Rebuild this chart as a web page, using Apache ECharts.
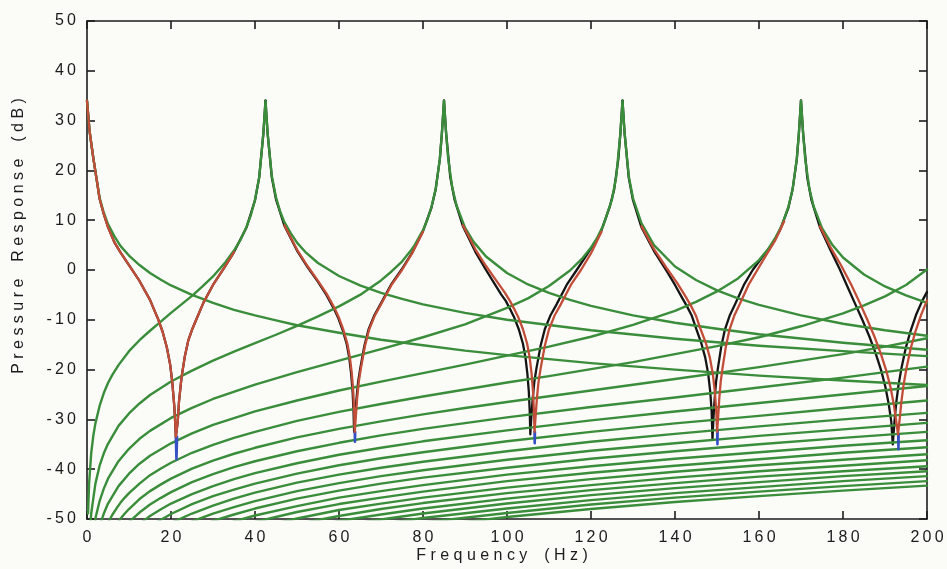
<!DOCTYPE html>
<html>
<head>
<meta charset="utf-8">
<script src="https://cdn.jsdelivr.net/npm/echarts/dist/echarts.min.js"></script>
<style>
  html, body { margin: 0; padding: 0; background: #fbfbf8; }
  #chart { width: 947px; height: 569px; }
</style>
</head>
<body>
<div id="chart"></div>
<script>
// Axis ranges and tick spacing
const xRange = [0, 200];
const yRange = [-50, 50];
const xStep = 20;
const yStep = 10;

// Modal contributions: [frequency Hz, level dB]
const mode0 = [[0,34],[0.3,31],[0.6,28],[1,25.5],[1.5,22.5],[2,19.8],[3,14.5],[4,11.5],[5,9.2],[6.5,6.8],[8,4.8],[10,2.9],[12.5,1.0],[15,-0.6],[17.5,-1.9],[20,-3.1],[25,-5.0],[30,-6.6],[35,-8.0],[40,-9.1],[45,-10.1],[50,-11.1],[60,-12.6],[70,-14.0],[80,-15.1],[90,-16.2],[100,-17.1],[120,-18.7],[140,-20.0],[160,-21.2],[180,-22.2],[200,-23.1]];
const mode1 = [[0.25,-48.9],[0.5,-42.9],[1,-36.8],[1.5,-33.3],[2,-30.8],[3,-27.3],[4,-24.7],[5,-22.7],[6,-21.1],[7.5,-19.1],[10,-16.3],[12.5,-14.1],[15,-12.2],[17.5,-10.4],[20,-8.6],[22.5,-6.9],[25,-5.2],[27.5,-3.3],[30,-1.3],[33,1.6],[35,3.9],[36.5,6.0],[38,8.7],[39,11.0],[40,14.1],[41,18.6],[42,27.5],[42.5,34],[43,27.5],[44,18.9],[45,14.6],[46,11.7],[47,9.6],[48.5,7.4],[50,5.5],[52,3.6],[55,1.4],[60,-1.2],[65,-3.1],[70,-4.6],[75,-5.8],[80,-6.9],[90,-8.6],[100,-10.0],[120,-12.1],[140,-13.8],[160,-15.2],[180,-16.3],[200,-17.3]];
const mode2 = [[0.5,-54.9],[1,-48.9],[2,-42.9],[3,-39.3],[4,-36.8],[5,-34.9],[7.5,-31.3],[10,-28.8],[12.5,-26.8],[15,-25.1],[20,-22.4],[25,-20.2],[30,-18.2],[35,-16.4],[40,-14.7],[45,-13.0],[50,-11.2],[55,-9.3],[60,-7.3],[65,-5.0],[70,-2.1],[72.5,-0.3],[75,1.7],[77,3.8],[78,5.0],[80,8.0],[81,10.0],[82,12.6],[83,16.2],[84,22.2],[84.5,27.5],[85,34],[85.5,27.5],[86,22.3],[87,16.4],[88,12.9],[90,8.5],[92,5.7],[95,2.7],[100,-0.6],[105,-2.9],[110,-4.6],[115,-6.0],[120,-7.2],[130,-9.1],[140,-10.6],[150,-11.8],[160,-12.9],[180,-14.6],[200,-16.0]];
const mode3 = [[1,-55.9],[2,-49.9],[3,-46.4],[4,-43.9],[5,-41.9],[7.5,-38.4],[10,-35.9],[12.5,-33.9],[15,-32.3],[20,-29.7],[25,-27.7],[30,-25.9],[40,-23.0],[50,-20.5],[60,-18.2],[70,-15.9],[80,-13.5],[90,-10.9],[100,-7.6],[105,-5.7],[110,-3.2],[115,-0.1],[118,2.4],[120,4.5],[121.5,6.5],[123,9.1],[125,14.2],[126,18.7],[127,27.5],[127.5,34],[128,27.5],[129,18.8],[130,14.4],[132,9.4],[135,5.0],[140,0.7],[145,-2.0],[150,-4.1],[155,-5.7],[160,-7.0],[170,-9.1],[180,-10.8],[190,-12.1],[200,-13.2]];
const mode4 = [[2,-54.9],[3,-51.4],[4,-48.9],[5,-46.9],[7.5,-43.4],[10,-40.9],[12.5,-38.9],[15,-37.3],[20,-34.8],[25,-32.8],[30,-31.1],[40,-28.4],[50,-26.2],[60,-24.2],[70,-22.4],[80,-20.7],[90,-19.0],[100,-17.2],[110,-15.4],[120,-13.4],[130,-11.0],[140,-8.2],[145,-6.4],[150,-4.3],[155,-1.7],[160,2.0],[162,4.0],[164,6.6],[165.5,9.1],[167,12.7],[168,16.2],[169,22.3],[169.5,27.5],[170,34],[170.5,27.5],[171,22.3],[172,16.3],[173,12.8],[175,8.4],[177.5,5.0],[180,2.5],[185,-0.9],[190,-3.3],[195,-5.1],[200,-6.6]];
const mode5 = [[4,-52.8],[5,-50.8],[6,-49.2],[7,-47.9],[8,-46.7],[9,-45.7],[10,-44.8],[12.5,-42.9],[15,-41.2],[17.5,-39.9],[20,-38.7],[25,-36.7],[30,-35.1],[35,-33.7],[40,-32.5],[50,-30.3],[60,-28.5],[70,-26.9],[80,-25.4],[90,-24.0],[100,-22.6],[110,-21.3],[120,-19.9],[130,-18.5],[140,-16.9],[150,-15.3],[160,-13.5],[170,-11.3],[180,-8.7],[185,-7.1],[190,-5.3],[195,-3.0],[200,0.1]];
const mode6 = [[7,-51.1],[8,-49.9],[9,-48.9],[10,-48.0],[12.5,-46.0],[15,-44.4],[17.5,-43.1],[20,-41.9],[25,-39.9],[30,-38.3],[35,-36.9],[40,-35.7],[50,-33.6],[60,-31.9],[70,-30.4],[80,-29.0],[90,-27.7],[100,-26.5],[120,-24.2],[140,-21.9],[160,-19.5],[180,-16.9],[190,-15.4],[200,-13.7]];
const mode7 = [[8,-52.6],[9,-51.6],[10,-50.6],[12.5,-48.7],[15,-47.1],[17.5,-45.8],[20,-44.6],[25,-42.6],[30,-41.0],[35,-39.6],[40,-38.4],[50,-36.4],[60,-34.7],[70,-33.2],[80,-31.9],[100,-29.6],[120,-27.5],[140,-25.6],[160,-23.6],[180,-21.6],[200,-19.4]];
const mode8 = [[10,-53.0],[12.5,-51.0],[15,-49.4],[17.5,-48.1],[20,-46.9],[25,-45.0],[30,-43.4],[35,-42.0],[40,-40.8],[50,-38.8],[60,-37.1],[70,-35.7],[80,-34.4],[100,-32.2],[120,-30.2],[140,-28.4],[160,-26.7],[180,-25.0],[200,-23.3]];
const mode9 = [[12.5,-53.1],[15,-51.5],[17.5,-50.2],[20,-49.0],[25,-47.0],[30,-45.4],[35,-44.1],[40,-42.9],[50,-40.9],[60,-39.2],[70,-37.8],[80,-36.6],[100,-34.4],[120,-32.5],[140,-30.8],[160,-29.3],[180,-27.7],[200,-26.2]];
const mode10 = [[15,-53.3],[17.5,-52.0],[20,-50.8],[25,-48.9],[30,-47.3],[35,-45.9],[40,-44.7],[50,-42.7],[60,-41.1],[70,-39.7],[80,-38.5],[100,-36.4],[120,-34.5],[140,-32.9],[160,-31.4],[180,-30.0],[200,-28.7]];
const mode11 = [[20,-52.5],[25,-50.5],[30,-48.9],[35,-47.6],[40,-46.4],[50,-44.4],[60,-42.8],[70,-41.4],[80,-40.2],[100,-38.1],[120,-36.3],[140,-34.8],[160,-33.3],[180,-32.0],[200,-30.7]];
const mode12 = [[20,-54.0],[25,-52.0],[30,-50.4],[35,-49.1],[40,-47.9],[50,-45.9],[60,-44.3],[70,-42.9],[80,-41.7],[100,-39.7],[120,-37.9],[140,-36.4],[160,-35.0],[180,-33.7],[200,-32.5]];
const mode13 = [[25,-53.4],[30,-51.8],[35,-50.5],[40,-49.3],[50,-47.4],[60,-45.7],[70,-44.4],[80,-43.2],[100,-41.1],[120,-39.4],[140,-37.9],[160,-36.6],[180,-35.3],[200,-34.2]];
const mode14 = [[30,-53.1],[35,-51.8],[40,-50.6],[50,-48.6],[60,-47.0],[70,-45.7],[80,-44.5],[100,-42.4],[120,-40.7],[140,-39.3],[160,-38.0],[180,-36.7],[200,-35.6]];
const mode15 = [[35,-53.0],[40,-51.8],[50,-49.9],[60,-48.2],[70,-46.9],[80,-45.7],[100,-43.7],[120,-42.0],[140,-40.5],[160,-39.2],[180,-38.1],[200,-37.0]];
const mode16 = [[40,-53.0],[50,-51.0],[60,-49.4],[70,-48.0],[80,-46.8],[100,-44.8],[120,-43.2],[140,-41.7],[160,-40.4],[180,-39.3],[200,-38.2]];
const mode17 = [[45,-53.0],[50,-52.0],[60,-50.4],[70,-49.1],[80,-47.9],[100,-45.9],[120,-44.2],[140,-42.8],[160,-41.5],[180,-40.4],[200,-39.4]];
const mode18 = [[50,-53.1],[60,-51.4],[70,-50.1],[80,-48.9],[100,-46.9],[120,-45.2],[140,-43.8],[160,-42.6],[180,-41.4],[200,-40.4]];
const mode19 = [[55,-53.1],[60,-52.4],[70,-51.0],[80,-49.8],[100,-47.9],[120,-46.2],[140,-44.8],[160,-43.6],[180,-42.4],[200,-41.4]];
const mode20 = [[60,-53.3],[70,-51.9],[80,-50.7],[100,-48.8],[120,-47.1],[140,-45.7],[160,-44.5],[180,-43.4],[200,-42.4]];
const mode21 = [[70,-52.8],[80,-51.6],[100,-49.6],[120,-48.0],[140,-46.6],[160,-45.4],[180,-44.3],[200,-43.3]];

// Summed response (red), drawn where it departs from the single modes
const red1 = [[0,34],[0.3,31],[0.6,28],[1,25.5],[1.5,22.5],[2,19.8],[3,14.3],[4,11.2],[5,8.6],[6.5,5.6],[8,3.5],[10,1.0],[12.5,-2.2],[15,-6.0],[16,-8.0],[17,-10.0],[18,-12.4],[19,-15.5],[19.8,-19.0],[20.3,-22.5],[20.8,-27.5],[21.05,-31.5],[21.15,-33.5],[21.45,-33.5],[21.6,-30.5],[21.9,-26.5],[22.5,-21.6],[23.3,-17.3],[24.1,-14.2],[25,-12.0],[25.9,-10.2],[27.7,-6.6],[30,-3.0],[33,0.9],[35,3.6]];
const red2 = [[47,9.0],[50,4.1],[52.5,0.8],[55,-2.2],[57,-4.7],[58,-6.2],[59,-7.8],[60,-9.6],[61,-11.9],[62,-14.8],[62.6,-17.6],[63.05,-20.8],[63.4,-24.5],[63.62,-28.5],[63.75,-32.5],[63.85,-32.5],[64.0,-29.5],[64.3,-26],[64.7,-22.5],[65.2,-19.8],[66.2,-15.2],[67.2,-11.9],[68.5,-9.2],[70,-6.9],[72.5,-3.0],[75,0.0],[77.5,3.5],[80,7.7]];
const red3 = [[89.5,9.0],[92.5,4.1],[95,0.8],[97.5,-2.2],[99.6,-4.7],[100.7,-6.2],[101.7,-7.8],[102.75,-9.6],[103.8,-11.9],[104.8,-14.8],[105.4,-17.6],[105.85,-20.8],[106.2,-24.5],[106.42,-28.5],[106.55,-32.5],[106.65,-32.5],[106.8,-29.5],[107.1,-26],[107.5,-22.5],[108.0,-19.8],[109.0,-15.2],[110.0,-11.9],[111.3,-9.2],[112.8,-6.9],[115.2,-3.0],[117.6,0.0],[120.1,3.5],[122.5,7.7]];
const red4 = [[132,8.8],[135,4.2],[138,0.4],[140.5,-2.6],[142.5,-5.3],[143.8,-7.2],[145,-9.2],[146.1,-11.9],[147.4,-14.8],[148.3,-17.6],[149.0,-20.8],[149.5,-24.5],[149.83,-28.5],[150.03,-32.5],[150.15,-32.5],[150.27,-29.5],[150.53,-26],[150.87,-22.5],[151.3,-19.8],[152.15,-15.2],[153.0,-11.9],[154.1,-9.2],[155.4,-6.9],[157.5,-3.0],[159.6,0.0],[161.7,3.0],[163.9,6.0],[166,9.8]];
const red5 = [[174.5,8.8],[177,4.6],[179.5,1.0],[182,-3.0],[184,-6.6],[185.8,-10.0],[187.5,-13.4],[189,-16.8],[190.3,-20.2],[191.3,-23.5],[192.1,-27],[192.7,-30.5],[193.1,-33],[193.3,-33],[193.55,-29.5],[193.9,-26.5],[194.4,-23.2],[195.1,-19.8],[196.1,-15.8],[197.3,-12.2],[198.6,-9.0],[200,-6.1]];

// Second summed response (black)
const black1 = [[0,34],[0.3,31],[0.6,28],[1,25.5],[1.5,22.5],[2,19.8],[3,14.3],[4,11.2],[5,8.6],[6.5,5.6],[8,3.5],[10,1.0],[12.5,-2.2],[15,-6.0],[16,-8.0],[17,-10.0],[18,-12.4],[19,-15.5],[19.8,-19.0],[20.3,-22.5],[20.8,-27.5],[21.05,-31.5],[21.15,-33.5],[21.45,-33.5],[21.6,-30.5],[21.9,-26.5],[22.5,-21.6],[23.3,-17.3],[24.1,-14.2],[25,-12.0],[25.9,-10.2],[27.7,-6.6],[30,-3.0],[33,0.9],[35,3.6],[38,8.6],[40,14.0],[41,18.6],[42,27.5],[42.5,34]];
const black2 = [[42.5,34],[43,27.5],[44,18.6],[45,14.2],[47,8.9],[50,3.9],[52.5,0.6],[55,-2.4],[57,-5.0],[57.9,-6.4],[58.85,-7.9],[59.85,-9.7],[60.85,-12.0],[61.85,-14.9],[62.45,-17.7],[62.9,-20.9],[63.25,-24.6],[63.47,-28.6],[63.6,-32.5],[63.7,-32.5],[63.85,-29.5],[64.15,-26],[64.55,-22.5],[65.05,-19.8],[66.05,-15.2],[67.05,-11.9],[68.35,-9.2],[69.85,-6.9],[72.35,-3.0],[74.9,0.1],[77.5,3.6],[80,7.8],[82,12.5],[83,16.1],[84,22.2],[84.5,27.5],[85,34]];
const black3 = [[85,34],[85.5,27.5],[86.5,18.6],[87.5,14.2],[89.5,8.8],[92.5,3.6],[95,0.0],[97.2,-3.0],[98.6,-4.9],[99.7,-6.2],[100.7,-7.8],[101.75,-9.6],[102.8,-11.9],[103.8,-14.8],[104.4,-17.6],[104.85,-20.8],[105.2,-24.5],[105.42,-28.5],[105.55,-33],[105.65,-33],[105.8,-29.5],[106.1,-26],[106.5,-22.5],[107.0,-19.8],[108.0,-15.2],[109.0,-11.9],[110.3,-9.2],[111.8,-6.9],[114.2,-3.0],[116.6,0.0],[119.1,3.2],[121.5,6.3],[122.5,8.0],[124.5,12.8],[125.5,16.1],[126.5,22.2],[127,27.5],[127.5,34]];
const black4 = [[127.5,34],[128,27.5],[129,18.5],[130,14.0],[132,8.6],[135,3.8],[138,-0.2],[140,-3.0],[141.7,-5.6],[142.8,-7.2],[144,-9.2],[145.1,-11.9],[146.3,-14.8],[147.2,-17.6],[147.9,-20.8],[148.4,-24.5],[148.73,-28.5],[148.92,-34],[149.08,-34],[149.17,-29.5],[149.43,-26],[149.77,-22.5],[150.2,-19.8],[151.05,-15.2],[151.9,-11.9],[153.0,-9.2],[154.3,-6.9],[156.4,-3.0],[158.5,0.0],[160.6,2.4],[163,5.0],[165,8.0],[167,12.5],[168,16.2],[169,22.2],[169.5,27.5],[170,34]];
const black5 = [[170,34],[170.5,27.5],[171.5,18.5],[172.5,14.0],[174.5,8.6],[177,4.0],[179.2,0.2],[181.2,-3.6],[183,-7.0],[184.7,-10.2],[186.3,-13.4],[187.8,-16.8],[189.1,-20.2],[190.1,-23.5],[190.9,-27],[191.5,-30.5],[191.85,-35],[192.1,-35],[192.35,-29.5],[192.7,-26.5],[193.2,-23.2],[193.9,-19.8],[194.9,-15.8],[196.1,-12.2],[197.4,-9.0],[198.8,-6.3],[200,-4.4]];

// Deepest points of the antiresonance notches (blue)
const blue1 = [[21.15,-33.5],[21.3,-38],[21.45,-33.5]];
const blue2 = [[63.75,-32.5],[63.8,-34.5],[63.85,-32.5]];
const blue3 = [[106.55,-32.5],[106.6,-34.8],[106.65,-32.5]];
const blue4 = [[150.05,-32.5],[150.1,-35],[150.15,-32.5]];
const blue5 = [[193.15,-33],[193.2,-36],[193.25,-33]];

// Text
const xTitle = 'Frequency (Hz)';
const yTitle = 'Pressure Response (dB)';

const GREEN = '#3a8d3a';
const RED = '#c24d38';
const BLACK = '#141414';
const BLUE = '#3550c4';
const INK = '#1c1c1c';
const FONT = '"Liberation Sans", Arial, sans-serif';

// Letter-spaced text, as in the printed figure
const spaced = s => String(s).split('').join('\u2009');
const spacedTitle = s => s.split('').map(c => c === ' ' ? '\u2002' : c).join(' ');

const greens = [mode0, mode1, mode2, mode3, mode4, mode5, mode6, mode7, mode8, mode9, mode10,
  mode11, mode12, mode13, mode14, mode15, mode16, mode17, mode18, mode19, mode20, mode21];
const reds = [red1, red2, red3, red4, red5];
const blacks = [black1, black2, black3, black4, black5];
const blues = [blue1, blue2, blue3, blue4, blue5];

const lineBase = {
  type: 'line', symbol: 'none', showSymbol: false, silent: true,
  smooth: false, clip: true, animation: false
};
const mk = (data, color, width, z) => Object.assign({}, lineBase, {
  data: data, z: z, lineStyle: { color: color, width: width, cap: 'round', join: 'round' }
});

const series = [].concat(
  blacks.map(d => mk(d, BLACK, 2.3, 2)),
  greens.map(d => mk(d, GREEN, 2.4, 3)),
  blues.map(d => mk(d, BLUE, 2.6, 4)),
  reds.map(d => mk(d, RED, 2.3, 5))
);

const axisLine = { show: true, onZero: false, lineStyle: { color: INK, width: 1.6 } };
const axisTick = { show: true, inside: true, length: 8, lineStyle: { color: INK, width: 1.6 } };
const labelStyle = { color: INK, fontFamily: FONT, fontSize: 16, margin: 11, formatter: v => spaced(v) };

const chart = echarts.init(document.getElementById('chart'), null, { renderer: 'canvas' });
chart.setOption({
  animation: false,
  backgroundColor: '#fbfbf8',
  grid: { left: 87, right: 20, top: 21, bottom: 50, containLabel: false },
  xAxis: [
    { type: 'value', min: xRange[0], max: xRange[1], interval: xStep, position: 'bottom',
      axisLine: axisLine, axisTick: axisTick, axisLabel: labelStyle, splitLine: { show: false } },
    { type: 'value', min: xRange[0], max: xRange[1], interval: xStep, position: 'top',
      axisLine: axisLine, axisTick: axisTick, axisLabel: { show: false }, splitLine: { show: false } }
  ],
  yAxis: [
    { type: 'value', min: yRange[0], max: yRange[1], interval: yStep, position: 'left',
      axisLine: axisLine, axisTick: axisTick, axisLabel: labelStyle, splitLine: { show: false } },
    { type: 'value', min: yRange[0], max: yRange[1], interval: yStep, position: 'right',
      axisLine: axisLine, axisTick: axisTick, axisLabel: { show: false }, splitLine: { show: false } }
  ],
  graphic: [
    { type: 'text', x: 502, y: 556, silent: true,
      style: { text: spacedTitle(xTitle), font: '16px ' + FONT, fill: INK,
               align: 'center', verticalAlign: 'middle', textAlign: 'center', textVerticalAlign: 'middle' } },
    { type: 'text', x: 19, y: 236, rotation: Math.PI / 2, silent: true,
      style: { text: spacedTitle(yTitle), font: '16px ' + FONT, fill: INK,
               align: 'center', verticalAlign: 'middle', textAlign: 'center', textVerticalAlign: 'middle' } }
  ],
  series: series
});
</script>
</body>
</html>
